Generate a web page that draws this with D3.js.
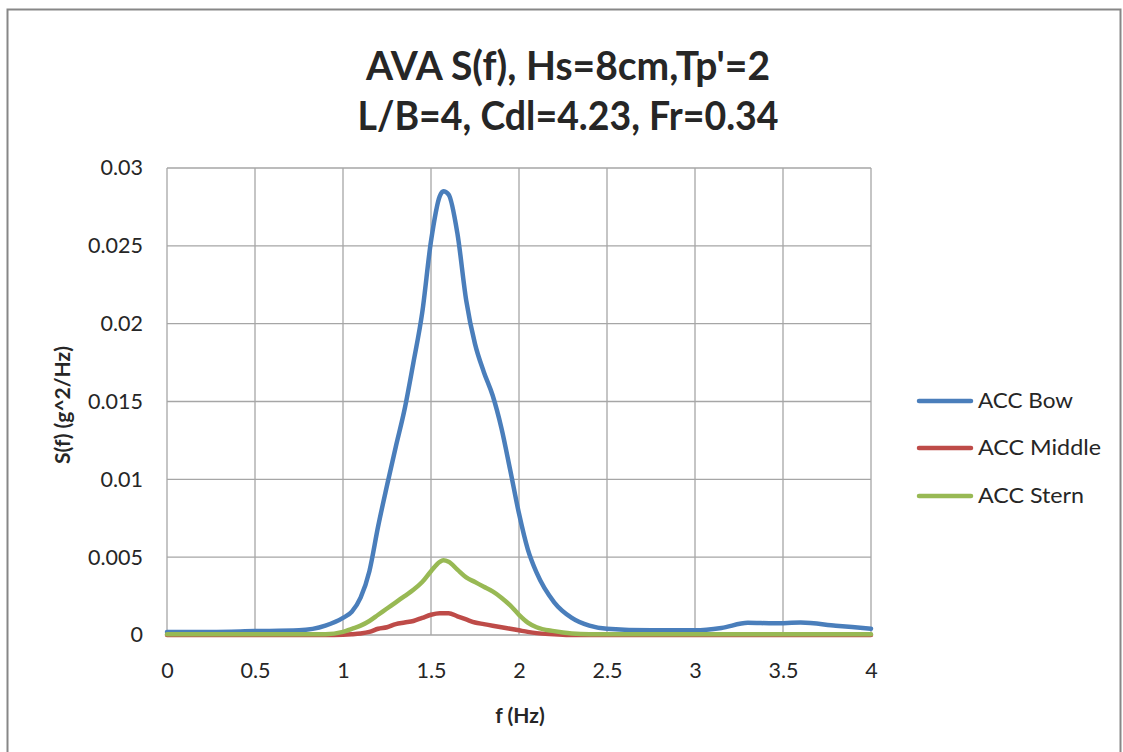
<!DOCTYPE html>
<html>
<head>
<meta charset="utf-8">
<script src="https://cdn.jsdelivr.net/npm/d3@7/dist/d3.min.js"></script>
<style>
  html, body { margin: 0; padding: 0; background: #fff; }
  svg { display: block; }
  text { font-family: Lato, "Open Sans", sans-serif; fill: #262626; }
</style>
</head>
<body>
<svg id="chart" width="1123" height="752"></svg>
<script>
// Frequency (Hz) sample points
const freq = [0, 0.25, 0.5, 0.75, 0.9, 1.0, 1.05, 1.1, 1.15, 1.2, 1.25, 1.3, 1.35, 1.4, 1.45,
  1.5, 1.55, 1.57, 1.6, 1.65, 1.7, 1.75, 1.8, 1.85, 1.9, 1.95, 2.0, 2.05, 2.1, 2.2, 2.3,
  2.4, 2.5, 2.75, 3.0, 3.15, 3.3, 3.45, 3.6, 3.8, 4.0];

// Spectral density S(f), g^2/Hz
const accBow = [0.0002, 0.0002, 0.00025, 0.0003, 0.0006, 0.0011, 0.0015, 0.0024, 0.0041, 0.0070,
  0.0096, 0.0121, 0.0145, 0.0175, 0.0207, 0.0253, 0.0282, 0.0285, 0.0283, 0.0258, 0.0215,
  0.0187, 0.0169, 0.0154, 0.0133, 0.0106, 0.0078, 0.0055, 0.0040, 0.0021, 0.0011, 0.0006,
  0.0004, 0.0003, 0.0003, 0.00045, 0.00078, 0.00075, 0.0008, 0.0006, 0.0004];

const accMiddle = [0, 0, 0, 0, 0, 0.00002, 0.00005, 0.0001, 0.0002, 0.0004, 0.0005, 0.0007, 0.0008,
  0.0009, 0.0011, 0.0013, 0.0014, 0.0014, 0.0014, 0.0012, 0.0010, 0.0008, 0.0007, 0.0006,
  0.0005, 0.0004, 0.0003, 0.0002, 0.00012, 0.00005, 0, 0, 0, 0, 0, 0, 0, 0, 0, 0, 0];

const accStern = [0.00005, 0.00005, 0.00005, 0.00005, 0.00005, 0.0002, 0.0004, 0.0006, 0.0009, 0.0013,
  0.0017, 0.0021, 0.0025, 0.0029, 0.0034, 0.0041, 0.0047, 0.0048, 0.0047, 0.0042, 0.0037,
  0.0034, 0.0031, 0.0028, 0.0024, 0.0019, 0.0013, 0.0008, 0.0005, 0.00025, 0.0001, 0.00005,
  0.00005, 0.00005, 0.00005, 0.00005, 0.00005, 0.00005, 0.00005, 0.00005, 0.00005];

const seriesNames = ["ACC Bow", "ACC Middle", "ACC Stern"];
const seriesColors = ["#4a7ebb", "#be4b48", "#98b954"];
const xTicks = [0, 0.5, 1, 1.5, 2, 2.5, 3, 3.5, 4];
const yTicks = [0, 0.005, 0.01, 0.015, 0.02, 0.025, 0.03];
const titleLines = ["AVA S(f), Hs=8cm,Tp'=2", "L/B=4, Cdl=4.23, Fr=0.34"];

const svg = d3.select("#chart");

// chart border
svg.append("rect")
  .attr("x", 7.5).attr("y", 9.5)
  .attr("width", 1113).attr("height", 760)
  .attr("fill", "none").attr("stroke", "#878787").attr("stroke-width", 2);

const plot = { left: 167, top: 168, right: 871, bottom: 635 };

const x = d3.scaleLinear().domain([0, 4]).range([plot.left, plot.right]);
const y = d3.scaleLinear().domain([0, 0.03]).range([plot.bottom, plot.top]);

// gridlines
const grid = svg.append("g");
grid.selectAll("line.v").data(xTicks).join("line")
  .attr("x1", d => x(d)).attr("x2", d => x(d))
  .attr("y1", plot.top).attr("y2", plot.bottom)
  .attr("stroke", "#a6a6a6").attr("stroke-width", 1.3);
grid.selectAll("line.h").data(yTicks).join("line")
  .attr("x1", plot.left).attr("x2", plot.right)
  .attr("y1", d => y(d)).attr("y2", d => y(d))
  .attr("stroke", "#a6a6a6").attr("stroke-width", 1.3);

// axes (labels only, lines come from the grid)
const xAxis = svg.append("g")
  .attr("transform", `translate(0,${plot.bottom})`)
  .call(d3.axisBottom(x).tickValues(xTicks).tickSize(0).tickPadding(28).tickFormat(d3.format("")));
const yAxis = svg.append("g")
  .attr("transform", `translate(${plot.left},0)`)
  .call(d3.axisLeft(y).tickValues(yTicks).tickSize(0).tickPadding(24).tickFormat(d => d === 0 ? "0" : String(+d.toFixed(3))));
[xAxis, yAxis].forEach(a => {
  a.select(".domain").remove();
  a.selectAll("text").attr("font-size", 21.5).attr("font-family", "Lato, sans-serif").attr("fill", "#262626");
});

// series lines
const series = [accBow, accMiddle, accStern];
const line = d3.line()
  .x((d, i) => x(freq[i]))
  .y(d => y(d))
  .curve(d3.curveMonotoneX);

series.forEach((vals, k) => {
  svg.append("path")
    .datum(vals)
    .attr("d", line)
    .attr("fill", "none")
    .attr("stroke", seriesColors[k])
    .attr("stroke-width", 4.5)
    .attr("stroke-linejoin", "round")
    .attr("stroke-linecap", "round");
});

// title, two lines
const titleWidths = [404, 421];
svg.selectAll("text.title").data(titleLines).join("text")
  .attr("class", "title")
  .attr("x", 568).attr("y", (d, i) => 80 + i * 50)
  .attr("text-anchor", "middle")
  .attr("font-size", 40).attr("font-weight", "bold")
  .attr("textLength", (d, i) => titleWidths[i])
  .attr("lengthAdjust", "spacingAndGlyphs")
  .attr("fill", "#000")
  .text(d => d);

// axis titles
svg.append("text")
  .attr("x", 520).attr("y", 723)
  .attr("text-anchor", "middle")
  .attr("font-size", 21).attr("font-weight", "bold").attr("fill", "#000")
  .text("f (Hz)");
svg.append("text")
  .attr("transform", "translate(70,405) rotate(-90)")
  .attr("text-anchor", "middle")
  .attr("font-size", 21).attr("font-weight", "bold").attr("fill", "#000")
  .text("S(f) (g^2/Hz)");

// legend
const legend = svg.append("g");
const legY = [401, 448, 496];
const legWidths = [95, 123, 106];
seriesNames.forEach((name, k) => {
  legend.append("line")
    .attr("x1", 919).attr("x2", 971)
    .attr("y1", legY[k]).attr("y2", legY[k])
    .attr("stroke", seriesColors[k]).attr("stroke-width", 4.5)
    .attr("stroke-linecap", "round");
  legend.append("text")
    .attr("x", 978).attr("y", legY[k]).attr("dy", "0.35em")
    .attr("font-size", 21)
    .attr("textLength", legWidths[k])
    .attr("lengthAdjust", "spacingAndGlyphs")
    .attr("fill", "#262626")
    .text(name);
});
</script>
</body>
</html>
